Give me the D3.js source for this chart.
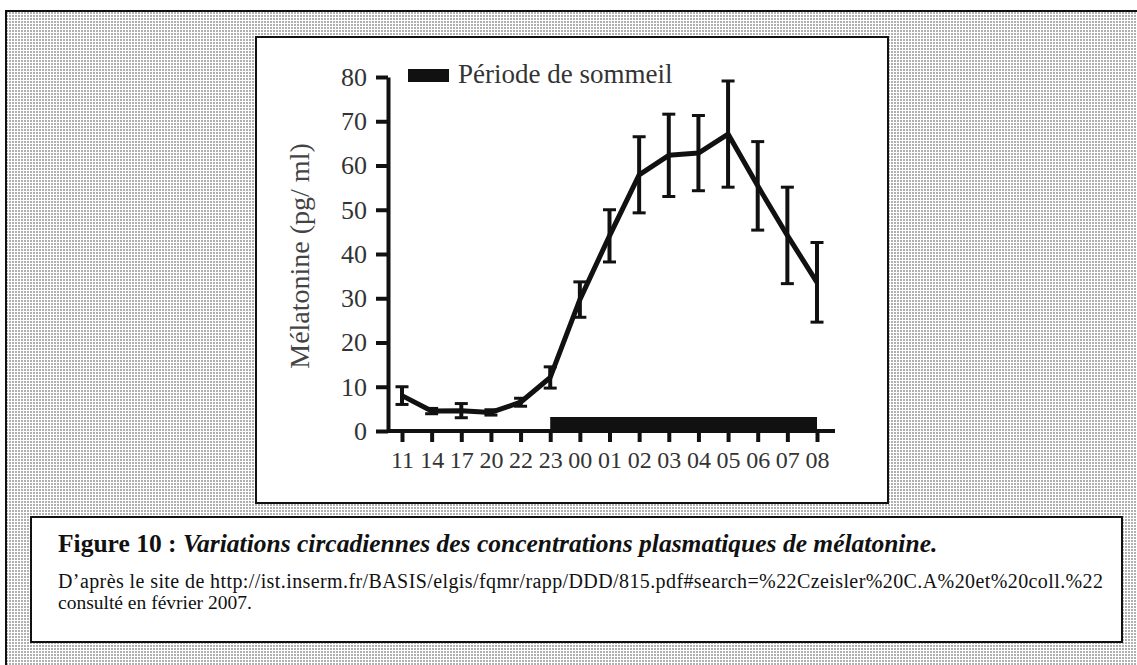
<!DOCTYPE html>
<html>
<head>
<meta charset="utf-8">
<script src="https://cdn.jsdelivr.net/npm/d3@7"></script>
<style>
  body { margin: 0; background: #fff; }
  svg { display: block; }
</style>
</head>
<body>
<div id="display"></div>
<script>
"use strict";

// hours of sampling
const hours = ["11", "14", "17", "20", "22", "23", "00", "01", "02", "03", "04", "05", "06", "07", "08"];
// mean melatonin (pg/ml) and half length of the error bar
const melatonin = [8, 4.5, 4.6, 4.2, 6.5, 12.1, 29.7, 44.1, 57.9, 62.3, 62.8, 67.1, 55.4, 44.2, 33.6];
const errors = [2, 0.6, 1.6, 0.6, 0.9, 2.4, 4, 5.9, 8.6, 9.3, 8.5, 12, 10, 10.9, 9];
const yTicks = [0, 10, 20, 30, 40, 50, 60, 70, 80];
const sleepPeriod = ["23", "08"];

const width = 1137;
const height = 665;
const serif = "'Liberation Serif', 'Times New Roman', serif";

const svg = d3.select("#display").append("svg")
  .attr("width", width)
  .attr("height", height)
  .attr("font-family", serif);

// halftone grey of the scanned page
const pattern = svg.append("defs").append("pattern")
  .attr("id", "halftone")
  .attr("width", 3)
  .attr("height", 3)
  .attr("patternUnits", "userSpaceOnUse");
pattern.append("rect").attr("width", 3).attr("height", 3).attr("fill", "#fff");
pattern.append("rect").attr("width", 2).attr("height", 2).attr("fill", "#b0b0b0");

svg.append("rect")
  .attr("x", 6).attr("y", 11)
  .attr("width", width).attr("height", height)
  .attr("fill", "url(#halftone)")
  .attr("stroke", "#111")
  .attr("stroke-width", 2);

// white panel holding the chart
svg.append("rect")
  .attr("x", 256).attr("y", 37)
  .attr("width", 632).attr("height", 466)
  .attr("fill", "#fff")
  .attr("stroke", "#111")
  .attr("stroke-width", 2);

const plotLeft = 388;
const plotTop = 77;
const plotBottom = 431;

const x = d3.scalePoint()
  .domain(hours)
  .range([402, 817]);

const y = d3.scaleLinear()
  .domain([0, 80])
  .range([plotBottom, plotTop]);

const plot = svg.append("g");

// sleep period bar on the time axis
plot.append("rect")
  .attr("x", x(sleepPeriod[0]))
  .attr("y", plotBottom - 14)
  .attr("width", x(sleepPeriod[1]) - x(sleepPeriod[0]))
  .attr("height", 14)
  .attr("fill", "#111");

const yAxis = plot.append("g")
  .attr("transform", "translate(" + plotLeft + ",0)")
  .call(d3.axisLeft(y).tickValues(yTicks).tickSize(12).tickSizeOuter(0).tickPadding(9))
  .attr("font-family", serif)
  .attr("font-size", 26);

yAxis.select(".domain").attr("stroke", "#111").attr("stroke-width", 4);
yAxis.selectAll(".tick line").attr("stroke", "#111").attr("stroke-width", 4);
yAxis.selectAll(".tick text").attr("fill", "#333");

const xAxis = plot.append("g")
  .attr("transform", "translate(0," + plotBottom + ")")
  .call(d3.axisBottom(x).tickSize(11).tickSizeOuter(0).tickPadding(9))
  .attr("font-family", serif)
  .attr("font-size", 24);

xAxis.select(".domain").remove();
xAxis.append("line")
  .attr("x1", plotLeft)
  .attr("x2", x(hours[hours.length - 1]) + 18)
  .attr("stroke", "#111")
  .attr("stroke-width", 4);
xAxis.selectAll(".tick line").attr("stroke", "#111").attr("stroke-width", 4);
xAxis.selectAll(".tick text").attr("fill", "#333");

plot.append("text")
  .attr("transform", "translate(309," + (y(40) + 2) + ") rotate(-90)")
  .attr("text-anchor", "middle")
  .attr("fill", "#444")
  .attr("font-size", 28)
  .text("Mélatonine (pg/ ml)");

const points = hours.map(function(h, i) {
  return { hour: h, value: melatonin[i], err: errors[i] };
});

// error bars
const bars = plot.append("g")
  .selectAll("g")
  .data(points)
  .join("g")
  .attr("stroke", "#111");

bars.append("line")
  .attr("x1", d => x(d.hour))
  .attr("x2", d => x(d.hour))
  .attr("y1", d => y(d.value - d.err))
  .attr("y2", d => y(d.value + d.err))
  .attr("stroke-width", 4);

bars.selectAll(".cap")
  .data(d => [[d.hour, d.value - d.err], [d.hour, d.value + d.err]])
  .join("line")
  .attr("class", "cap")
  .attr("x1", d => x(d[0]) - 6.5)
  .attr("x2", d => x(d[0]) + 6.5)
  .attr("y1", d => y(d[1]))
  .attr("y2", d => y(d[1]))
  .attr("stroke-width", 3);

plot.append("path")
  .datum(points)
  .attr("fill", "none")
  .attr("stroke", "#111")
  .attr("stroke-width", 5)
  .attr("stroke-linejoin", "round")
  .attr("d", d3.line().x(d => x(d.hour)).y(d => y(d.value)));

// legend
plot.append("rect")
  .attr("x", 408).attr("y", 69)
  .attr("width", 41).attr("height", 13)
  .attr("fill", "#111");

plot.append("text")
  .attr("x", 458).attr("y", 83)
  .attr("fill", "#333")
  .attr("font-size", 27)
  .text("Période de sommeil");

// caption box
svg.append("rect")
  .attr("x", 31).attr("y", 517)
  .attr("width", 1091).attr("height", 125)
  .attr("fill", "#fff")
  .attr("stroke", "#111")
  .attr("stroke-width", 2);

const title = svg.append("text")
  .attr("x", 58).attr("y", 552)
  .attr("fill", "#111")
  .attr("font-size", 25.5)
  .attr("font-weight", "bold");
title.append("tspan").text("Figure 10 : ");
title.append("tspan")
  .attr("font-style", "italic")
  .text("Variations circadiennes des concentrations plasmatiques de mélatonine.");

svg.append("text")
  .attr("x", 58).attr("y", 588)
  .attr("fill", "#111")
  .attr("font-size", 20)
  .attr("textLength", 1045)
  .attr("lengthAdjust", "spacing")
  .text("D’après le site de http://ist.inserm.fr/BASIS/elgis/fqmr/rapp/DDD/815.pdf#search=%22Czeisler%20C.A%20et%20coll.%22");

svg.append("text")
  .attr("x", 58).attr("y", 609)
  .attr("fill", "#111")
  .attr("font-size", 19.5)
  .text("consulté en février 2007.");
</script>
</body>
</html>
